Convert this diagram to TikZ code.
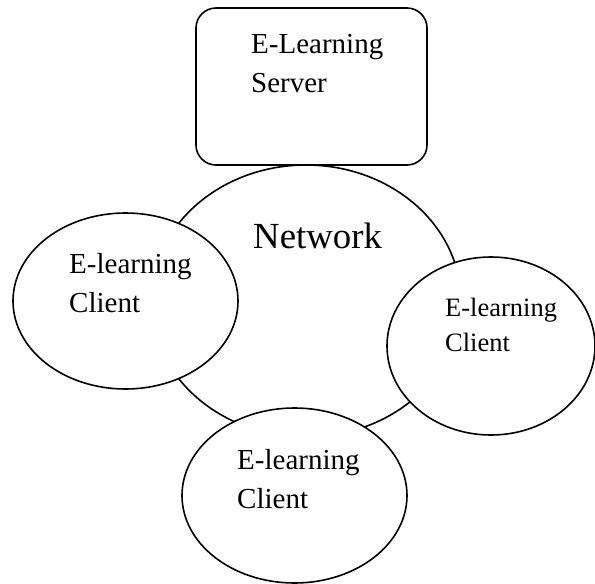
\documentclass[tikz,border=0pt]{standalone}
\usepackage{fontspec}
\setmainfont{Liberation Serif}
\usetikzlibrary{shapes.geometric}
\begin{document}
\begin{tikzpicture}[x=1pt,y=-1pt,
  outl/.style={draw=black,line width=1.6pt,fill=white},
  oval/.style={outl,ellipse,inner sep=0pt},
  lbl/.style={anchor=base west,inner sep=0pt,font=\fontsize{29}{35}\selectfont},
  lblsmall/.style={anchor=base west,inner sep=0pt,font=\fontsize{26.5}{32}\selectfont}]
\useasboundingbox (0,0) rectangle (595,584);
% network
\node[oval,minimum width=310pt,minimum height=272pt] (net) at (306,301) {};
\node[anchor=base west,inner sep=0pt,font=\fontsize{36.8}{44}\selectfont] (nettxt) at (253,248) {Network};
% server
\node[outl,rounded corners=20pt,minimum width=231pt,minimum height=157pt,inner sep=0pt] (srv) at (311.5,86.5) {};
\node[lbl] (srv1) at (251,53) {E-Learning};
\node[lbl] (srv2) at (251,92) {Server};
% left client
\node[oval,minimum width=225pt,minimum height=176pt] (cl) at (125.5,301) {};
\node[lbl] (cl1) at (69,273) {E-learning};
\node[lbl] (cl2) at (69,312) {Client};
% right client
\node[oval,minimum width=208pt,minimum height=178pt] (cr) at (491,346) {};
\node[lblsmall] (cr1) at (445,316) {E-learning};
\node[lblsmall] (cr2) at (445,351) {Client};
% bottom client
\node[oval,minimum width=225pt,minimum height=175pt] (cb) at (294.5,495.5) {};
\node[lbl] (cb1) at (237,469) {E-learning};
\node[lbl] (cb2) at (237,508) {Client};
\end{tikzpicture}
\end{document}
